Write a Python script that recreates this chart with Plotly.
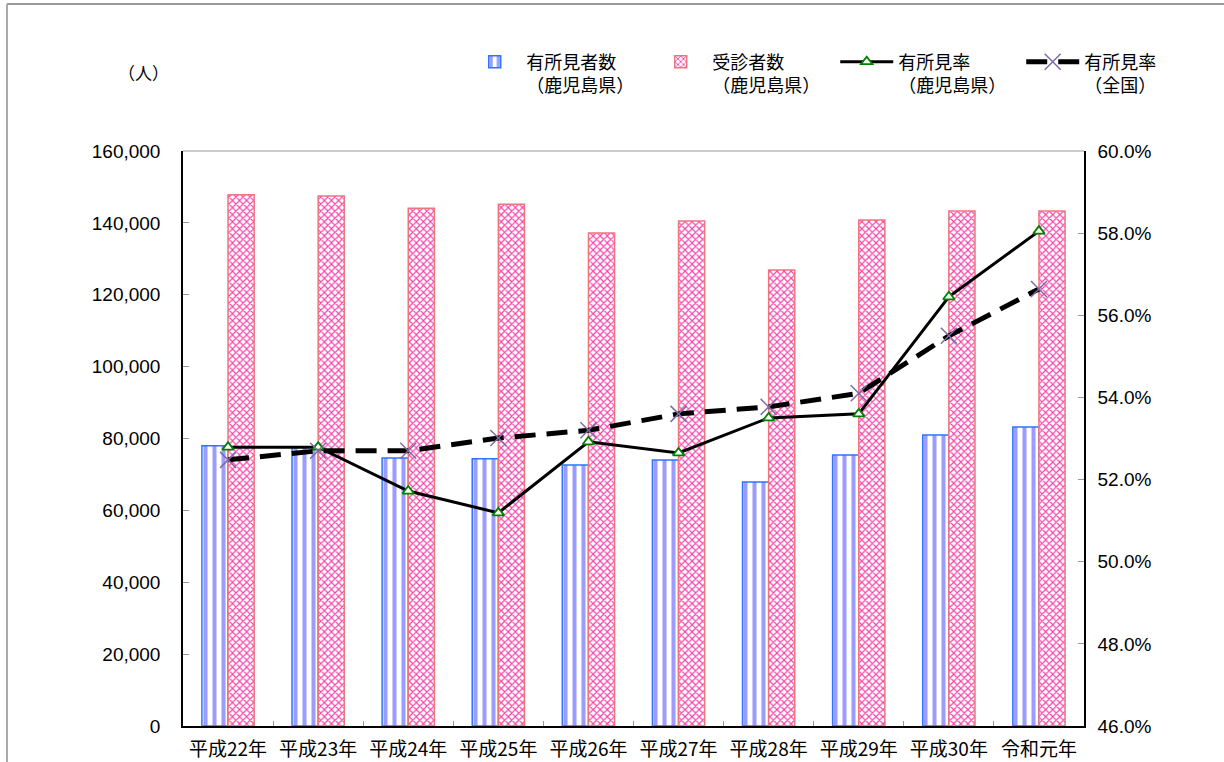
import plotly.graph_objects as go

categories = ["平成22年", "平成23年", "平成24年", "平成25年", "平成26年",
              "平成27年", "平成28年", "平成29年", "平成30年", "令和元年"]
findings_kagoshima = [78000, 77600, 74600, 74400, 72600, 74000, 67900, 75400, 81000, 83200]
examinees_kagoshima = [147800, 147500, 144100, 145200, 137200, 140500, 126900, 140800, 143300, 143300]
rate_kagoshima = [0.5279, 0.5279, 0.5172, 0.5119, 0.5292, 0.5265, 0.5350, 0.5360, 0.5645, 0.5805]
rate_national = [0.5248, 0.5270, 0.5270, 0.5301, 0.5320, 0.5360, 0.5377, 0.5410, 0.5550, 0.5664]

names = ["有所見者数<br>（鹿児島県）", "受診者数<br>（鹿児島県）",
         "有所見率<br>（鹿児島県）", "有所見率<br>（全国）"]

JP = "Noto Sans CJK JP, Noto Sans, sans-serif"
NUM = "Liberation Sans, Arial, sans-serif"

fig = go.Figure()
fig.add_trace(go.Bar(
    x=categories, y=findings_kagoshima, name=names[0],
    marker=dict(color="white", line=dict(color="#2f74ff", width=1.5),
                pattern=dict(shape="|", fgcolor="#9c9cff", bgcolor="white",
                             size=9, solidity=0.45, fillmode="replace")),
))
fig.add_trace(go.Bar(
    x=categories, y=examinees_kagoshima, name=names[1],
    marker=dict(color="white", line=dict(color="#f07480", width=1.5),
                pattern=dict(shape="x", fgcolor="#f73fa8", bgcolor="white",
                             size=5, solidity=0.4, fillmode="replace")),
))
fig.add_trace(go.Scatter(
    x=categories, y=rate_kagoshima, name=names[2], yaxis="y2",
    mode="lines+markers",
    line=dict(color="black", width=3),
    marker=dict(symbol="triangle-up", size=10, color="white",
                line=dict(color="#008000", width=1.8)),
))
fig.add_trace(go.Scatter(
    x=categories, y=rate_national, name=names[3], yaxis="y2",
    mode="lines+markers",
    line=dict(color="black", width=5, dash="21px,11px"),
    marker=dict(symbol="x-thin", size=16, color="#7f6aa8",
                line=dict(color="#7f6aa8", width=1.5)),
))

fig.update_layout(
    width=1224, height=762,
    margin=dict(l=183, r=140, t=151, b=36, autoexpand=False),
    paper_bgcolor="white", plot_bgcolor="white",
    barmode="group", bargap=0.42, bargroupgap=0,
    font=dict(family=JP, size=18, color="black"),
    showlegend=True,
    legend=dict(orientation="h", x=0.311, xanchor="left", y=1.187, yanchor="top",
                xref="paper", yref="paper",
                font=dict(family=JP, size=18, color="black"),
                itemwidth=53, entrywidth=118, entrywidthmode="pixels",
                valign="top", traceorder="normal", bgcolor="rgba(0,0,0,0)"),
    xaxis=dict(type="category", range=[-0.5, len(categories) - 0.5],
               showline=True, linecolor="black", linewidth=1.5,
               ticks="inside", tickson="boundaries", ticklen=5, tickcolor="#999999",
               tickfont=dict(family=JP, size=19), showgrid=False,
               ticklabelstandoff=5),
    yaxis=dict(range=[0, 160000], dtick=20000, tickformat=",", showgrid=False,
               showline=True, linecolor="black", linewidth=1.5,
               ticks="inside", ticklen=6, tickcolor="#999999",
               tickfont=dict(family=NUM, size=19), ticklabelstandoff=17,
               zeroline=False),
    yaxis2=dict(range=[0.46, 0.60], dtick=0.02, tickformat=".1%", overlaying="y",
                side="right", showgrid=False, showline=True, linecolor="black",
                linewidth=1.5, ticks="inside", ticklen=6, tickcolor="#999999",
                tickfont=dict(family=NUM, size=19), ticklabelstandoff=8,
                zeroline=False),
    annotations=[dict(text="（人）", xref="paper", yref="paper",
                      x=(143 - 183) / 901, y=(726 - 72) / 575,
                      xanchor="center", yanchor="middle", showarrow=False,
                      font=dict(family=JP, size=17))],
    shapes=[
        dict(type="line", xref="paper", yref="paper", x0=0, x1=1, y0=1, y1=1,
             line=dict(color="#bbbbbb", width=1.5)),
        dict(type="line", xref="paper", yref="paper",
             x0=(7 - 183) / 901, x1=(1230 - 183) / 901,
             y0=(726 - 4) / 575, y1=(726 - 4) / 575,
             line=dict(color="#777777", width=1.5)),
        dict(type="line", xref="paper", yref="paper",
             x0=(7 - 183) / 901, x1=(7 - 183) / 901,
             y0=(726 - 4) / 575, y1=(726 - 770) / 575,
             line=dict(color="#aaaaaa", width=2)),
    ],
)

fig.write_html("out.html", config={"displayModeBar": False},
               post_script="document.body.style.margin='0';document.body.style.overflow='hidden';")
